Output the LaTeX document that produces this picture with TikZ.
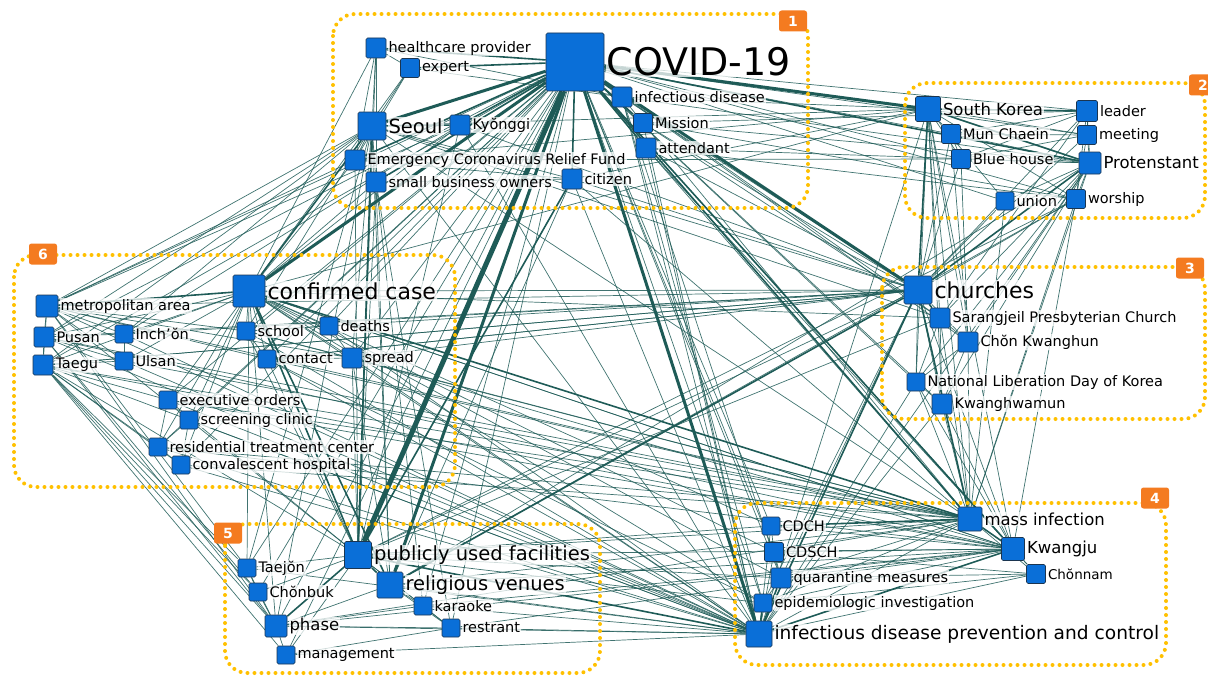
\documentclass[tikz,border=0pt]{standalone}
\usepackage{fontspec}
\setmainfont{DejaVu Sans}
\usetikzlibrary{positioning, backgrounds}

\definecolor{edgeteal}{HTML}{1E5B57}
\definecolor{nodeblue}{HTML}{0A6FD8}
\definecolor{nodeline}{HTML}{1B3550}
\definecolor{clustergold}{HTML}{FFC000}
\definecolor{badgeorange}{HTML}{F47B20}

\begin{document}
\begin{tikzpicture}[
  x=1pt, y=-1pt,
  kw/.style={draw=nodeline, fill=nodeblue, rounded corners=1.5pt, minimum size=#1,
    inner sep=0pt, line width=0.6pt},
  txt/.style={fill=white, fill opacity=0.75, text opacity=1, inner sep=1pt, text=black},
  txtSm/.style={txt, font=\fontsize{13.5}{15}\selectfont},
  txtS/.style={txt, font=\fontsize{14.5}{16}\selectfont},
  txtM/.style={txt, font=\fontsize{16.5}{18}\selectfont},
  txtL/.style={txt, font=\fontsize{19.5}{21}\selectfont},
  txtLn/.style={txt, font=\fontsize{18.6}{20}\selectfont},
  txtXL/.style={txt, font=\fontsize{22}{24}\selectfont},
  txtH/.style={txt, font=\fontsize{38}{40}\selectfont},
  e1/.style={draw=edgeteal, line width=0.7pt, opacity=0.85},
  e2/.style={draw=edgeteal, line width=1.6pt},
  e3/.style={draw=edgeteal, line width=3pt},
  e4/.style={draw=edgeteal, line width=5pt},
  cluster/.style={draw=clustergold, line width=4pt, dash pattern=on 0pt off 7pt,
    line cap=round, rounded corners=22pt},
  badge/.style={fill=badgeorange, text=white, rounded corners=2.5pt, minimum width=28pt,
    minimum height=21pt, inner sep=0pt, font=\bfseries\fontsize{14}{14}\selectfont}
]
  \useasboundingbox (0,0) rectangle (1208,677);

  % --- Keywords (square + label) ---
  \foreach \n/\x/\y/\s/\f/\t in {
    covid/575/62/58/txtH/COVID-19,
    hcp/376/48/20/txtS/healthcare provider,
    expert/410/68/19/txtS/expert,
    infdis/622/97/20/txtS/infectious disease,
    seoul/372/126/28/txtL/Seoul,
    kyonggi/460/125/20/txtS/Kyŏnggi,
    mission/643/123/19/txtS/Mission,
    attendant/646/148/20/txtS/attendant,
    ecrf/355/160/20/txtS/Emergency Coronavirus Relief Fund,
    sbo/376/182/20/txtS/small business owners,
    citizen/572/179/20/txtS/citizen,
    skorea/928/109/25/txtM/South Korea,
    mun/951/134/19/txtS/Mun Chaein,
    bluehouse/961/159/19/txtS/Blue house,
    leader/1087/111/21/txtS/leader,
    meeting/1087/135/19/txtS/meeting,
    protestant/1090/163/22/txtM/Protenstant,
    union/1005/201/18/txtS/union,
    worship/1076/199/19/txtS/worship,
    churches/918/290/28/txtXL/churches,
    sarang/940/318/20/txtS/Sarangjeil Presbyterian Church,
    chon/968/342/20/txtS/Chŏn Kwanghun,
    nld/916/382/18/txtS/National Liberation Day of Korea,
    kwanghwa/942/404/20/txtS/Kwanghwamun,
    massinf/970/519/24/txtM/mass infection,
    kwangju/1013/549/23/txtM/Kwangju,
    chonnam/1036/574/19/txtSm/Chŏnnam,
    cdch/771/526/18/txtS/CDCH,
    cdsch/774/552/19/txtS/CDSCH,
    quarantine/781/578/20/txtS/quarantine measures,
    epi/763/603/18/txtS/epidemiologic investigation,
    idpc/759/634/26/txtLn/infectious disease prevention and control,
    puf/358/555/27/txtL/publicly used facilities,
    relven/390/585/26/txtL/religious venues,
    taejon/247/568/18/txtS/Taejŏn,
    chonbuk/258/592/18/txtS/Chŏnbuk,
    phase/276/626/22/txtM/phase,
    karaoke/423/606/18/txtS/karaoke,
    restrant/451/628/18/txtS/restrant,
    mgmt/286/655/18/txtS/management,
    confirmed/249/291/32/txtXL/confirmed case,
    metro/47/306/22/txtS/metropolitan area,
    pusan/44/337/20/txtS/Pusan,
    taegu/43/365/20/txtS/Taegu,
    inchon/124/334/18/txtS/Inch'ŏn,
    ulsan/124/361/18/txtS/Ulsan,
    school/246/331/18/txtS/school,
    deaths/329/326/18/txtS/deaths,
    contact/267/359/18/txtS/contact,
    spread/352/358/20/txtS/spread,
    exec/168/400/18/txtS/executive orders,
    screening/189/420/18/txtS/screening clinic,
    residential/158/447/18/txtS/residential treatment center,
    convalescent/181/465/18/txtS/convalescent hospital}
  {
    \node[kw=\s] (\n) at (\x,\y) {};
    \node[\f, right=1pt of \n] (\n t) {\t};
  }

  % --- Cluster badges ---
  \node[badge] (b1) at (793,21) {1};
  \node[badge] (b2) at (1203,85) {2};
  \node[badge] (b3) at (1190,268) {3};
  \node[badge] (b4) at (1155,498) {4};
  \node[badge] (b5) at (228,533) {5};
  \node[badge] (b6) at (43,254) {6};

  \begin{scope}[on background layer]
    % --- Co-occurrence links ---
    \foreach \a/\b in {
      hcp/seoul, hcp/expert, hcp/ecrf, hcp/sbo, hcp/infdis, hcp/confirmed, hcp/puf,
      expert/seoul, expert/ecrf, expert/infdis, expert/confirmed,
      seoul/ecrf, seoul/sbo, seoul/citizen, seoul/metro, seoul/pusan, seoul/taegu, seoul/inchon,
      seoul/school, seoul/spread, seoul/churches, seoul/skorea, seoul/idpc, seoul/relven,
      seoul/phase, seoul/taejon, seoul/sarang, seoul/massinf,
      kyonggi/confirmed, kyonggi/puf, kyonggi/inchon, kyonggi/metro, kyonggi/churches, kyonggi/idpc,
      ecrf/sbo, ecrf/citizen, ecrf/puf, ecrf/metro, ecrf/confirmed, ecrf/skorea, ecrf/bluehouse,
      sbo/puf, sbo/relven, sbo/citizen, sbo/confirmed, sbo/karaoke, sbo/restrant,
      citizen/relven, citizen/idpc, citizen/skorea, citizen/churches, citizen/massinf,
      infdis/churches, infdis/idpc, infdis/skorea, infdis/protestant, infdis/mission,
      infdis/quarantine, infdis/epi,
      mission/churches, mission/protestant, mission/leader, mission/worship, mission/massinf,
      mission/idpc, mission/sarang,
      attendant/churches, attendant/worship, attendant/protestant, attendant/massinf,
      attendant/idpc, attendant/kwangju,
      covid/leader, covid/meeting, covid/mun, covid/bluehouse, covid/worship, covid/union,
      covid/sarang, covid/chon, covid/nld, covid/kwanghwa, covid/cdch, covid/cdsch,
      covid/quarantine, covid/epi, covid/chonnam, covid/metro, covid/pusan, covid/taegu,
      covid/school, covid/deaths, covid/contact, covid/spread, covid/exec, covid/screening,
      covid/residential, covid/convalescent, covid/taejon, covid/chonbuk, covid/phase,
      covid/mgmt, covid/karaoke, covid/restrant,
      skorea/mun, skorea/bluehouse, skorea/meeting, skorea/union, skorea/worship, skorea/sarang,
      skorea/chon, skorea/nld, skorea/kwanghwa, skorea/idpc, skorea/massinf, skorea/kwangju,
      skorea/confirmed,
      mun/leader, mun/meeting, mun/protestant, mun/bluehouse, mun/churches, mun/chon,
      bluehouse/protestant, bluehouse/leader, bluehouse/meeting, bluehouse/churches, bluehouse/chon,
      leader/protestant, leader/meeting, leader/churches, leader/sarang, leader/worship,
      meeting/protestant, meeting/churches, meeting/worship,
      protestant/worship, protestant/union, protestant/sarang, protestant/chon,
      protestant/kwanghwa, protestant/nld, protestant/massinf, protestant/relven, protestant/idpc,
      worship/churches, worship/relven, worship/puf, worship/massinf, worship/kwangju,
      union/churches, union/massinf,
      churches/chon, churches/nld, churches/kwanghwa, churches/kwangju, churches/confirmed,
      churches/puf, churches/quarantine, churches/epi, churches/spread, churches/contact,
      churches/metro, churches/taegu,
      sarang/chon, sarang/kwanghwa, sarang/nld, sarang/massinf, sarang/puf, sarang/confirmed,
      chon/kwanghwa, chon/nld, chon/massinf,
      nld/kwanghwa, nld/massinf, nld/kwangju, nld/idpc,
      kwanghwa/massinf, kwanghwa/kwangju, kwanghwa/idpc,
      massinf/cdsch, massinf/quarantine, massinf/epi, massinf/idpc, massinf/chonnam,
      massinf/relven, massinf/puf, massinf/school, massinf/phase, massinf/taegu,
      kwangju/cdch, kwangju/cdsch, kwangju/quarantine, kwangju/epi, kwangju/chonnam,
      kwangju/relven, kwangju/puf, kwangju/karaoke, kwangju/restrant, kwangju/phase,
      kwangju/confirmed, kwangju/taegu, kwangju/pusan,
      chonnam/quarantine, chonnam/idpc, chonnam/cdsch, chonnam/epi,
      cdch/cdsch, cdch/idpc, cdch/confirmed, cdch/puf,
      cdsch/idpc, cdsch/quarantine, cdsch/confirmed,
      quarantine/epi, quarantine/confirmed, quarantine/puf,
      epi/confirmed, epi/contact, epi/puf,
      idpc/confirmed, idpc/relven, idpc/karaoke, idpc/restrant, idpc/mgmt, idpc/phase,
      idpc/metro, idpc/pusan, idpc/taegu, idpc/ulsan, idpc/inchon, idpc/school, idpc/spread,
      idpc/contact, idpc/exec, idpc/residential, idpc/convalescent, idpc/screening,
      idpc/deaths, idpc/taejon,
      puf/karaoke, puf/restrant, puf/taejon, puf/chonbuk, puf/mgmt, puf/school, puf/spread,
      puf/contact, puf/metro, puf/taegu, puf/exec,
      relven/karaoke, relven/restrant, relven/phase, relven/spread,
      phase/taejon, phase/chonbuk, phase/mgmt, phase/restrant, phase/karaoke, phase/confirmed,
      phase/metro, phase/taegu, phase/pusan,
      taejon/chonbuk, taejon/metro, taejon/taegu, taejon/confirmed,
      chonbuk/taegu, chonbuk/pusan, mgmt/restrant, mgmt/taegu, karaoke/restrant,
      confirmed/school, confirmed/deaths, confirmed/contact, confirmed/spread, confirmed/exec,
      confirmed/screening, confirmed/residential, confirmed/convalescent, confirmed/pusan,
      confirmed/taegu, confirmed/inchon, confirmed/ulsan, confirmed/kwangju,
      metro/pusan, metro/taegu, metro/inchon, metro/ulsan, metro/school, metro/contact,
      metro/spread, metro/massinf,
      pusan/taegu, pusan/ulsan, pusan/inchon, pusan/churches, pusan/massinf,
      taegu/ulsan, taegu/churches, taegu/exec, taegu/residential, taegu/convalescent,
      inchon/ulsan, inchon/churches, ulsan/massinf,
      school/contact, school/spread, school/deaths, school/churches,
      deaths/spread, contact/spread, contact/massinf, contact/churches,
      spread/massinf, spread/kwangju,
      exec/screening, exec/residential, exec/massinf, exec/kwangju,
      screening/residential, screening/convalescent,
      residential/convalescent, residential/massinf, residential/kwangju, convalescent/massinf}
      \draw[e1] (\a) -- (\b);

    \foreach \a/\b in {
      covid/massinf, covid/kwangju, covid/infdis, covid/mission, covid/attendant,
      covid/citizen, covid/kyonggi, covid/sbo, covid/ecrf, covid/hcp, covid/expert,
      covid/protestant, seoul/confirmed, seoul/puf, seoul/kyonggi, confirmed/puf,
      confirmed/relven, confirmed/massinf, confirmed/metro, churches/sarang, churches/skorea,
      churches/protestant, churches/relven, churches/idpc, churches/massinf,
      skorea/protestant, skorea/leader, kwangju/massinf, kwangju/idpc, puf/relven,
      puf/phase, idpc/epi, idpc/quarantine, idpc/puf, massinf/cdch, citizen/puf}
      \draw[e2] (\a) -- (\b);

    \foreach \a/\b in {covid/relven, covid/churches, covid/skorea, covid/idpc,
      covid/confirmed, covid/seoul}
      \draw[e3] (\a) -- (\b);
    \draw[e4] (covid) -- (puf);

    % --- Clusters ---
    \draw[cluster] (333,14) rectangle (808,208);
    \draw[cluster] (905,83) rectangle (1205,218);
    \draw[cluster] (882,267) rectangle (1205,419);
    \draw[cluster] (735,503) rectangle (1166,665);
    \draw[cluster] (225,524) rectangle (600,673);
    \draw[cluster] (14,255) rectangle (455,487);
  \end{scope}
\end{tikzpicture}
\end{document}
